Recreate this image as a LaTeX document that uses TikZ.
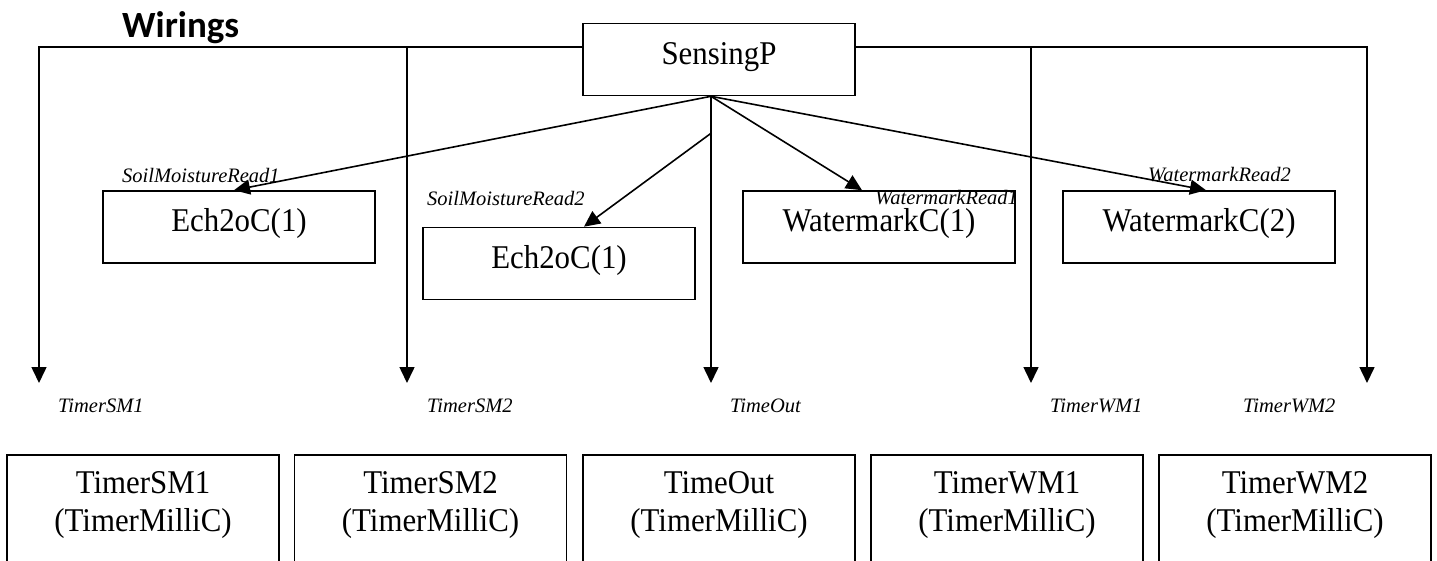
\documentclass[tikz,border=0pt]{standalone}
\usepackage{fontspec}
\setmainfont{Liberation Serif}
\newfontfamily\boxfont{Liberation Serif}[FakeStretch=0.93]
\newfontfamily\headfont{Carlito}
\usetikzlibrary{arrows.meta,calc}
\begin{document}
\begin{tikzpicture}[x=1pt,y=-1pt,
  box/.style={draw,line width=1.6pt,minimum width=272pt,minimum height=72pt,
    inner sep=0pt,text height=18pt,text depth=8pt,
    font=\boxfont\fontsize{33.2}{38}\selectfont},
  tbox/.style={draw,line width=1.6pt,anchor=north,minimum width=272pt,minimum height=140pt},
  ttext/.style={align=center,inner sep=0pt,font=\boxfont\fontsize{33.2}{38}\selectfont},
  port/.style={anchor=base west,inner sep=0pt,font=\fontsize{20.5}{24}\selectfont\itshape},
  wire/.style={line width=1.6pt,-{Triangle[length=16pt,width=15pt]}},
]
\useasboundingbox (0,0) rectangle (1437,561);
\clip (0,0) rectangle (1437,561);

% title
\node[anchor=base west,inner sep=0pt,font=\headfont\bfseries\fontsize{37}{40}\selectfont]
  (title) at (122,38) {Wirings};

% components
\node[box] (sens) at (719,59.5) {SensingP};
\node[box] (ech1) at (239,227) {Ech2oC(1)};
\node[box] (ech2) at (559,263.5) {Ech2oC(1)};
\node[box] (wm1) at (879,227) {WatermarkC(1)};
\node[box] (wm2) at (1199,227) {WatermarkC(2)};

% timer components (open at the bottom edge)
\node[tbox] (b1) at (143,454) {};
\node[tbox] (b2) at (430.5,454) {};
\node[tbox] (b3) at (719,454) {};
\node[tbox] (b4) at (1007,454) {};
\node[tbox] (b5) at (1295,454) {};
\node[ttext] (t1) at (143,505.5) {TimerSM1\\(TimerMilliC)};
\node[ttext] (t2) at (430.5,505.5) {TimerSM2\\(TimerMilliC)};
\node[ttext] (t3) at (719,505.5) {TimeOut\\(TimerMilliC)};
\node[ttext] (t4) at (1007,505.5) {TimerWM1\\(TimerMilliC)};
\node[ttext] (t5) at (1295,505.5) {TimerWM2\\(TimerMilliC)};

% wiring points
\coordinate (bus) at (0,47);
\coordinate (src) at ([xshift=-8pt]sens.south);
\coordinate (e1) at (39,383);
\coordinate (e2) at (407,383);
\coordinate (e3) at (711,383);
\coordinate (e4) at (1031,383);
\coordinate (e5) at (1367,383);
\coordinate (fork) at ($(src)!0.129!(e3)$);

% timer wirings
\draw[wire] (sens.west |- bus) -| (e1);
\draw[wire] (sens.west |- bus) -| (e2);
\draw[wire] (src) -- (e3);
\draw[wire] (sens.east |- bus) -| (e4);
\draw[wire] (sens.east |- bus) -| (e5);

% sensor wirings
\draw[wire] (src) -- ([xshift=-5pt]ech1.north);
\draw[wire] (fork) -- ([xshift=25pt]ech2.north);
\draw[wire] (src) -- ([xshift=-17pt]wm1.north);
\draw[wire] (src) -- ([xshift=7pt]wm2.north);

% interface labels
\node[port] (l1) at (122,183) {SoilMoistureRead1};
\node[port] (l2) at (427,206) {SoilMoistureRead2};
\node[port] (l3) at (875,205) {WatermarkRead1};
\node[port] (l4) at (1148,182) {WatermarkRead2};
\node[port] (l5) at (58,412) {TimerSM1};
\node[port] (l6) at (427,412) {TimerSM2};
\node[port] (l7) at (730,412) {TimeOut};
\node[port] (l8) at (1050,412) {TimerWM1};
\node[port] (l9) at (1243,412) {TimerWM2};
\end{tikzpicture}
\end{document}
